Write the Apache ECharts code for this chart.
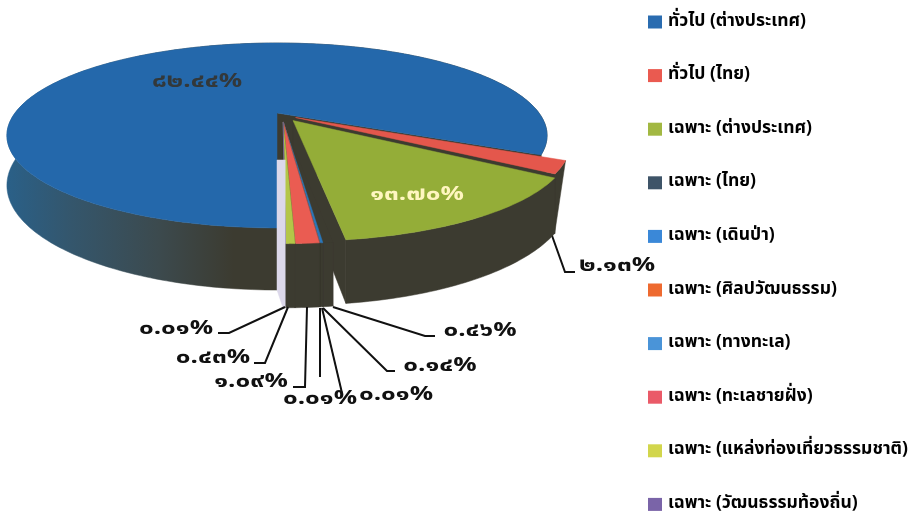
<!DOCTYPE html>
<html><head><meta charset="utf-8">
<style>html,body{margin:0;padding:0;background:#fff}#c{width:914px;height:515px}</style>
<script src="https://cdn.jsdelivr.net/npm/echarts@6/dist/echarts.min.js"></script>
</head><body><div id="c"></div>
<script>
// ---- data ----
var categories = ['ทั่วไป (ต่างประเทศ)','ทั่วไป (ไทย)','เฉพาะ (ต่างประเทศ)','เฉพาะ (ไทย)','เฉพาะ (เดินป่า)','เฉพาะ (ศิลปวัฒนธรรม)','เฉพาะ (ทางทะเล)','เฉพาะ (ทะเลชายฝั่ง)','เฉพาะ (แหล่งท่องเที่ยวธรรมชาติ)','เฉพาะ (วัฒนธรรมท้องถิ่น)'];
var values = [82.44,2.13,13.70,0.46,0.14,0.01,0.01,1.09,0.43,0.01];
var valueLabels = ['๘๒.๔๔%','๒.๑๓%','๑๓.๗๐%','๐.๔๖%','๐.๑๔%','๐.๐๑%','๐.๐๑%','๑.๐๙%','๐.๔๓%','๐.๐๑%'];
// ---- style ----
var topColors = ['#2468ab','#e4574c','#94ad38','#3c3b30','#2b76b8','#e8672e','#3f8ed6','#ea5c52','#b4c648','#8c78b4'];
var legendColors = ['#2a6cb0','#ea5a50','#a2b842','#3e5468','#3a88d8','#ee6a30','#4a94d8','#ea5a68','#d2d64c','#7a64a8'];
var wallColor = '#3c3b30';
var offsets = [[0,0],[0.07,0.051],[0.06,0.085],[0.023,0.1],[0.023,0.1],[0.023,0.1],[0.023,0.1],[0.023,0.1],[0.023,0.1],[0.023,0.1]];
var labelPos = [[197,83],[617,267],[417,196],[480,332],[440,367],[396,396],[320,400],[251,383],[213,359],[176,330]];
var leaders = [null,[[550,230],[565,272],[575,272]],null,[[333,307],[425,336],[435,336]],[[323,308],[387,371],[395,371]],[[322,308],[342,393]],[[320,308],[320,377]],[[307,307],[305,387],[293,387]],[[288,307],[265,363],[254,363]],[[285,307],[229,333],[218,333]]];
var labelColors = ['#33383a','#111','#fff6c0','#111','#111','#111','#111','#111','#111','#111'];
var CX=277, CY=113, RX=262, RY=87, P=0.243, DEPTH=47;
var FONT='"Noto Sans Thai","Noto Sans","DejaVu Sans","Liberation Sans",sans-serif';

var total = values.reduce(function(a,b){return a+b;},0);
function proj(u,v,z){var w=1-P*v;return [CX+RX*u/w, CY+(RY*v+z*DEPTH)/w];}
function ang(a,o,z){var r=a*Math.PI/180;return proj(-Math.sin(r)+o[0],Math.cos(r)+o[1],z);}
function arc(a0,a1,o,z){var pts=[],n=Math.max(2,Math.ceil(Math.abs(a1-a0)));for(var i=0;i<=n;i++)pts.push(ang(a0+(a1-a0)*i/n,o,z));return pts;}
function poly(pts,fill,z2){return {type:'polygon',shape:{points:pts},style:{fill:fill,stroke:fill,lineWidth:0.5},z2:z2||0};}

function renderSlice(params,api){
  var i=params.seriesIndex, val=api.value(0);
  var before=0; for(var k=0;k<i;k++) before+=values[k];
  var a0=before/total*360, a1=(before+val)/total*360, o=offsets[i];
  var children=[];
  var apexT=proj(o[0],o[1],0), apexB=proj(o[0],o[1],1);
  var topArc=arc(a0,a1,o,0), botArc=arc(a0,a1,o,1);
  if(i===1){
    // this slice's wall closes onto the neighbouring slice's lower corner
    var corner=ang(a1,offsets[2],1);
    children.push(poly([apexT,topArc[topArc.length-1],corner,apexB],wallColor));
    children.push(poly(topArc.concat([corner]),wallColor));
  } else {
    children.push(poly([apexT,topArc[0],botArc[0],apexB],wallColor));
    children.push(poly([apexT,topArc[topArc.length-1],botArc[botArc.length-1],apexB],wallColor));
    var side = i===0 ? {type:'linear',x:0,y:0,x2:1,y2:0,colorStops:[{offset:0,color:'#2a6088'},{offset:0.12,color:'#34566c'},{offset:0.28,color:'#3c4a4e'},{offset:0.42,color:wallColor},{offset:1,color:wallColor}]} : wallColor;
    children.push(poly(topArc.concat(botArc.slice().reverse()),side));
  }
  children.push(poly([apexT].concat(topArc),topColors[i]));
  if(i===9){ // pale sliver between the first slice and the exploded front group
    var front=ang(0,o,1), mid=proj(0,0,1), edge=proj(0,1,1);
    children.push(poly([[edge[0],mid[1]],[front[0],mid[1]],[front[0],front[1]],[edge[0]+6,front[1]],[edge[0],edge[1]]],'#dcd8ea'));
  }
  if(leaders[i]) children.push({type:'polyline',shape:{points:leaders[i]},style:{fill:null,stroke:'#111',lineWidth:2},z2:5});
  children.push({type:'text',x:labelPos[i][0],y:labelPos[i][1],scaleX:1.3,z2:6,style:{text:valueLabels[i],fill:labelColors[i],font:'bold 20px '+FONT,textAlign:'center',textVerticalAlign:'middle'}});
  return {type:'group',children:children};
}

var series=categories.map(function(name,i){
  return {type:'custom',name:name,coordinateSystem:'none',data:[[values[i]]],renderItem:renderSlice,
    itemStyle:{color:legendColors[i]},animation:false,silent:true,clip:false,z:i+1};
});
var chart=echarts.init(document.getElementById('c'),null,{renderer:'canvas'});
chart.setOption({
  backgroundColor:'#fff',animation:false,
  legend:{orient:'vertical',left:648,top:13,height:501,padding:0,itemWidth:14,itemHeight:13,itemGap:35.6,icon:'rect',selectedMode:false,
    data:categories,textStyle:{color:'#000',fontSize:17.5,lineHeight:17,fontWeight:'bold',fontFamily:FONT,padding:[0,0,0,1]}},
  series:series
});
</script></body></html>
